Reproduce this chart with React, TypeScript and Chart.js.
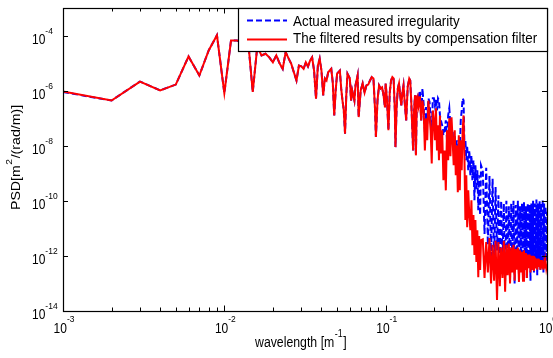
import React, { useEffect, useRef } from "react";
import { Chart, registerables } from "chart.js";

Chart.register(...registerables);

// Spectral line index k (wavelength = k * 0.001 m^-1) and log10 of PSD.
const WAVELENGTH_STEP = 0.001;

const filteredPoints: [number, number][] = [
  [1, -6.03], [2, -6.36], [3, -5.67], [4, -5.99], [5, -5.78], [6, -4.76], [7, -5.45], [8, -4.54], [9, -3.99], [10, -6.09],
  [11, -4.18], [12, -4.18], [13, -4.3], [14, -4.1], [15, -6.05], [16, -4.4], [17, -4.72], [18, -4.66], [19, -4.79], [20, -4.97],
  [21, -4.72], [22, -5.01], [23, -5.21], [24, -4.6], [25, -4.83], [26, -5.03], [27, -5.34], [28, -5.63], [29, -5.09], [30, -5.12],
  [31, -5.21], [32, -4.97], [33, -5.12], [34, -4.91], [35, -4.79], [36, -5.27], [37, -6.29], [38, -5.09], [39, -4.84], [40, -5.27],
  [41, -6.17], [42, -5.56], [43, -5.63], [44, -5.34], [45, -5.27], [46, -5.21], [47, -5.7], [48, -6.9], [49, -5.99], [50, -5.38],
  [52, -5.27], [53, -5.92], [54, -6.36], [55, -6.72], [56, -7.56], [57, -6.17], [58, -5.39], [60, -5.56], [61, -6.36], [62, -5.99],
  [64, -6.36], [65, -5.81], [67, -5.45], [68, -6.96], [70, -5.99], [72, -5.74], [74, -6.07], [76, -5.81], [78, -5.78], [80, -5.63],
  [82, -5.51], [84, -5.56], [86, -6.72], [87, -7.68], [89, -6.36], [91, -5.81], [93, -5.92], [95, -5.88], [97, -6.17], [99, -6.61],
  [100, -5.74], [102, -6.36], [104, -7.44], [106, -6.07], [108, -5.63], [110, -5.51], [112, -5.56], [114, -6.72], [115, -8.05], [117, -6.54],
  [119, -5.92], [121, -5.74], [123, -6.17], [125, -6.54], [127, -6.07], [129, -5.81], [131, -6.36], [134, -7.08], [137, -5.85], [140, -5.56],
  [142, -5.63], [144, -6.36], [146, -7.26], [148, -8.17], [150, -6.72], [152, -6.17], [154, -8.35], [156, -6.36], [158, -6.24], [160, -6.54],
  [163, -6.21], [166, -7.08], [169, -6.36], [172, -6.72], [175, -8.17], [178, -7.0], [181, -7.8], [184, -6.36], [187, -6.9], [190, -7.44],
  [193, -8.64], [196, -6.72], [199, -7.08], [202, -7.8], [205, -6.64], [208, -8.17], [211, -7.26], [214, -8.53], [217, -6.9], [220, -8.28],
  [224, -7.44], [228, -9.25], [232, -8.17], [236, -9.62], [240, -7.44], [244, -8.53], [248, -7.0], [252, -8.38], [256, -6.97], [260, -7.8],
  [264, -8.71], [268, -7.44], [272, -9.07], [276, -7.99], [280, -9.69], [284, -7.62], [288, -9.62], [292, -7.8], [296, -8.89], [300, -7.44],
  [304, -6.9], [308, -8.53], [312, -10.7], [316, -9.07], [320, -10.96], [325, -9.62], [330, -10.52], [335, -11.07], [340, -9.98], [345, -11.61],
  [350, -10.52], [355, -11.97], [360, -10.7], [365, -12.22], [370, -11.07], [375, -12.77], [380, -11.28], [385, -12.51], [390, -11.43],
  [400, -11.4], [410, -12.8], [420, -11.5], [430, -12.6], [440, -11.35], [450, -13.0], [460, -11.6], [470, -12.9], [480, -11.45], [490, -13.6],
  [500, -11.5], [510, -13.1], [520, -11.7], [530, -12.8], [540, -11.45], [550, -13.3], [560, -11.6], [570, -12.7], [580, -11.55], [590, -13.0],
  [600, -11.7], [610, -12.6], [620, -11.6], [630, -12.9], [640, -11.75], [650, -12.5], [660, -11.7], [670, -12.95], [680, -11.8], [690, -12.6],
  [700, -11.85], [710, -12.9], [720, -11.8], [730, -12.5], [740, -11.9], [750, -12.8], [760, -11.95], [770, -12.45], [780, -11.95], [790, -12.6],
  [800, -12.0], [810, -12.5], [820, -12.0], [830, -12.55], [840, -12.05], [850, -12.45], [860, -12.1], [870, -12.5], [880, -12.1], [890, -12.4],
  [900, -12.15], [910, -12.5], [920, -12.15], [930, -12.45], [940, -12.2], [950, -12.5], [960, -12.25], [970, -12.45], [980, -12.2], [990, -12.45],
  [1000, -12.3],
];

const measuredPoints: [number, number][] = [
  [1, -6.05], [2, -6.36], [3, -5.67], [4, -5.99], [5, -5.78], [6, -4.76], [7, -5.45], [8, -4.54], [9, -3.99], [10, -6.09],
  [11, -4.18], [12, -4.18], [13, -4.3], [14, -4.1], [15, -6.05], [16, -4.4], [17, -4.72], [18, -4.66], [19, -4.79], [20, -4.97],
  [21, -4.72], [22, -5.01], [23, -5.21], [24, -4.6], [25, -4.83], [26, -5.03], [27, -5.34], [28, -5.63], [29, -5.09], [30, -5.12],
  [31, -5.21], [32, -4.97], [33, -5.12], [34, -4.91], [35, -4.79], [36, -5.27], [37, -6.29], [38, -5.09], [39, -4.84], [40, -5.27],
  [41, -6.17], [42, -5.56], [43, -5.63], [44, -5.34], [45, -5.27], [46, -5.21], [47, -5.7], [48, -6.9], [49, -5.99], [50, -5.38],
  [52, -5.27], [53, -5.92], [54, -6.36], [55, -6.72], [56, -7.56], [57, -6.17], [58, -5.39], [60, -5.56], [61, -6.36], [62, -5.99],
  [64, -6.36], [65, -5.81], [67, -5.45], [68, -6.96], [70, -5.99], [72, -5.74], [74, -6.07], [76, -5.81], [78, -5.78], [80, -5.63],
  [82, -5.51], [84, -5.56], [86, -6.72], [87, -7.68], [89, -6.36], [91, -5.81], [93, -5.92], [95, -5.88], [97, -6.17], [99, -6.61],
  [100, -5.74], [102, -6.36], [104, -7.44], [106, -6.07], [108, -5.63], [110, -5.51], [112, -5.56], [114, -6.72], [115, -8.05], [117, -6.54],
  [119, -5.92], [121, -5.74], [123, -6.17], [125, -6.54], [127, -6.07], [129, -5.81], [131, -6.36], [134, -7.08], [137, -5.85], [140, -5.56],
  [142, -5.63], [144, -6.36], [146, -7.26], [148, -8.17], [150, -6.72], [152, -6.17], [154, -8.35], [156, -6.36], [158, -6.24], [160, -6.54],
  [163, -6.0], [166, -7.08], [169, -5.92], [172, -6.5], [175, -7.5], [178, -6.6], [181, -7.2], [184, -6.28], [187, -6.4], [190, -7.0],
  [193, -7.6], [196, -6.28], [199, -6.28], [202, -6.54], [205, -6.28], [208, -6.72], [211, -6.28], [214, -6.36], [217, -6.9], [220, -7.08],
  [224, -7.26], [228, -7.62], [232, -7.44], [236, -7.08], [240, -7.8], [244, -6.9], [248, -6.64], [252, -7.26], [256, -7.8], [260, -7.44],
  [264, -8.17], [268, -7.62], [272, -8.17], [276, -7.8], [280, -8.53], [284, -7.8], [288, -8.17], [292, -7.08], [296, -6.72], [300, -6.28],
  [304, -6.36], [308, -8.17], [312, -7.8], [316, -8.53], [320, -7.99], [325, -8.89], [330, -8.17], [335, -9.07], [340, -8.35], [345, -9.25],
  [350, -8.53], [355, -9.98], [360, -8.71], [365, -9.62], [370, -8.89], [375, -10.34], [380, -9.07], [385, -10.52], [390, -8.71],
  [400, -8.9], [410, -11.2], [420, -8.8], [430, -11.6], [440, -9.1], [450, -12.0], [460, -9.2], [470, -12.3], [480, -9.5], [490, -11.8],
  [500, -9.8], [510, -12.6], [520, -10.0], [530, -12.2], [540, -10.1], [550, -12.9], [560, -10.0], [570, -12.4], [580, -10.2], [590, -12.8],
  [600, -10.1], [610, -12.3], [620, -10.0], [630, -13.0], [640, -10.15], [650, -12.4], [660, -10.0], [670, -12.7], [680, -10.2], [690, -12.3],
  [700, -10.1], [710, -12.9], [720, -10.05], [730, -12.5], [740, -10.2], [750, -12.8], [760, -10.1], [770, -12.4], [780, -10.15], [790, -12.9],
  [800, -10.1], [810, -12.5], [820, -10.0], [830, -12.6], [840, -10.1], [850, -12.3], [860, -9.95], [870, -12.7], [880, -10.1], [890, -12.4],
  [900, -10.0], [910, -12.5], [920, -10.1], [930, -12.3], [940, -9.95], [950, -12.6], [960, -10.1], [970, -12.3], [980, -10.2], [990, -12.2],
  [1000, -10.4],
];

const xTickExponents = [-3, -2, -1, 0];
const yTickExponents = [-14, -12, -10, -8, -6, -4];
const legendLabels = ["Actual measured irregularity", "The filtered results by compensation filter"];

const FONT = '"Liberation Sans", Arial, Helvetica, sans-serif';
const SY = 1.15; // the reference's text is slightly stretched vertically

const toXY = (pts: [number, number][]) =>
  pts.map(([k, l]) => ({ x: k * WAVELENGTH_STEP, y: Math.pow(10, l) }));

function txt(ctx: CanvasRenderingContext2D, s: string, x: number, y: number, size: number) {
  ctx.save();
  ctx.font = `${size}px ${FONT}`;
  ctx.textBaseline = "alphabetic";
  ctx.textAlign = "left";
  ctx.translate(x, y);
  ctx.scale(1, SY);
  ctx.fillText(s, 0, 0);
  ctx.restore();
}

function width(ctx: CanvasRenderingContext2D, s: string, size: number) {
  ctx.save();
  ctx.font = `${size}px ${FONT}`;
  const w = ctx.measureText(s).width;
  ctx.restore();
  return w;
}

const axesPlugin = {
  id: "matlabAxes",
  afterDraw(chart: any) {
    const { ctx, chartArea } = chart;
    const { left, right, top, bottom } = chartArea;
    const xs = chart.scales.x;
    const ys = chart.scales.y;
    ctx.save();
    ctx.strokeStyle = "#000";
    ctx.fillStyle = "#000";
    ctx.lineWidth = 1;
    ctx.setLineDash([]);

    // ticks on x (bottom & top)
    ctx.beginPath();
    for (let e = -3; e <= 0; e++) {
      for (let m = 1; m <= 9; m++) {
        if (e === 0 && m > 1) break;
        const v = m * Math.pow(10, e);
        const px = Math.round(xs.getPixelForValue(v)) + 0.5;
        const len = m === 1 ? 5.5 : 3.5;
        ctx.moveTo(px, bottom);
        ctx.lineTo(px, bottom - len);
        ctx.moveTo(px, top);
        ctx.lineTo(px, top + len);
      }
    }
    // ticks on y (left & right)
    for (const e of yTickExponents) {
      const py = Math.round(ys.getPixelForValue(Math.pow(10, e))) + 0.5;
      ctx.moveTo(left, py);
      ctx.lineTo(left + 5, py);
      ctx.moveTo(right, py);
      ctx.lineTo(right - 5, py);
    }
    ctx.stroke();

    // box
    ctx.lineWidth = 1.2;
    ctx.strokeRect(Math.round(left) + 0.5, Math.round(top) + 0.5, Math.round(right - left), Math.round(bottom - top));

    // x tick labels
    for (const e of xTickExponents) {
      const px = xs.getPixelForValue(Math.pow(10, e));
      const wb = width(ctx, "10", 12);
      const we = width(ctx, String(e), 8.5);
      const start = px - (wb + we) / 2 + 1;
      txt(ctx, "10", start, bottom + 22, 12);
      txt(ctx, String(e), start + wb, bottom + 11, 8.5);
    }

    // y tick labels
    for (const e of yTickExponents) {
      const py = ys.getPixelForValue(Math.pow(10, e));
      const wb = width(ctx, "10", 12);
      txt(ctx, "10", 32, py + 8.3, 12);
      txt(ctx, String(e), 32 + wb, py - 1.7, 8.5);
    }

    // x title
    {
      let x = 255;
      const y = 347;
      txt(ctx, "wavelength [m", x, y, 12.3);
      x += width(ctx, "wavelength [m", 12.3) + 0.5;
      txt(ctx, "-1", x, y - 10, 9);
      x += width(ctx, "-1", 9) + 0.5;
      txt(ctx, "]", x, y, 12.3);
    }

    // y title (rotated)
    {
      ctx.save();
      ctx.translate(20, 210);
      ctx.scale(1, SY);
      ctx.rotate(-Math.PI / 2);
      ctx.textBaseline = "alphabetic";
      let x = 0;
      ctx.font = `12.3px ${FONT}`;
      ctx.fillText("PSD[m", x, 0);
      x += ctx.measureText("PSD[m").width + 0.5;
      ctx.font = `9px ${FONT}`;
      ctx.fillText("2", x, -8);
      x += ctx.measureText("2").width + 0.5;
      ctx.font = `12.3px ${FONT}`;
      ctx.fillText("/(rad/m)]", x, 0);
      ctx.restore();
    }

    // legend
    {
      const lx = 238;
      const ly = Math.round(top);
      const lw = Math.round(right) - lx;
      const lh = 43;
      ctx.fillStyle = "#fff";
      ctx.fillRect(lx, ly, lw, lh);
      ctx.strokeStyle = "#000";
      ctx.lineWidth = 1.2;
      ctx.strokeRect(lx + 0.5, ly + 0.5, lw, lh);
      const rows = [ly + 12.5, ly + 31.5];
      const baselines = [ly + 18.3, ly + 35];
      const colors = ["#0000ff", "#ff0000"];
      const dashes = [[6, 3], []];
      for (let i = 0; i < 2; i++) {
        ctx.beginPath();
        ctx.strokeStyle = colors[i];
        ctx.lineWidth = 2;
        ctx.setLineDash(dashes[i]);
        ctx.moveTo(247, rows[i]);
        ctx.lineTo(287, rows[i]);
        ctx.stroke();
        ctx.setLineDash([]);
        ctx.fillStyle = "#000";
        txt(ctx, legendLabels[i], 293, baselines[i], 13.4);
      }
    }
    ctx.restore();
  },
};

export default function App() {
  const canvasRef = useRef<HTMLCanvasElement | null>(null);

  useEffect(() => {
    document.body.style.margin = "0";
    const canvas = canvasRef.current;
    if (!canvas) return;
    const chart = new Chart(canvas, {
      type: "line",
      data: {
        datasets: [
          {
            label: legendLabels[1],
            data: toXY(filteredPoints),
            borderColor: "#ff0000",
            borderWidth: 2,
            pointRadius: 0,
            fill: false,
            tension: 0,
          },
          {
            label: legendLabels[0],
            data: toXY(measuredPoints),
            borderColor: "#0000ff",
            borderWidth: 2,
            borderDash: [6, 3],
            pointRadius: 0,
            fill: false,
            tension: 0,
          },
        ],
      },
      options: {
        animation: false,
        responsive: false,
        devicePixelRatio: 1,
        parsing: false as any,
        layout: { padding: { left: 63, top: 8, right: 6, bottom: 47 } },
        plugins: { legend: { display: false }, tooltip: { enabled: false } },
        scales: {
          x: { type: "logarithmic", min: 0.001, max: 1, display: false },
          y: { type: "logarithmic", min: 1e-14, max: 1e-3, display: false },
        },
      },
      plugins: [axesPlugin],
    });
    return () => chart.destroy();
  }, []);

  return (
    <div style={{ position: "fixed", left: 0, top: 0, width: 553, height: 358, background: "#fff" }}>
      <canvas ref={canvasRef} width={553} height={358} style={{ display: "block" }} />
    </div>
  );
}
